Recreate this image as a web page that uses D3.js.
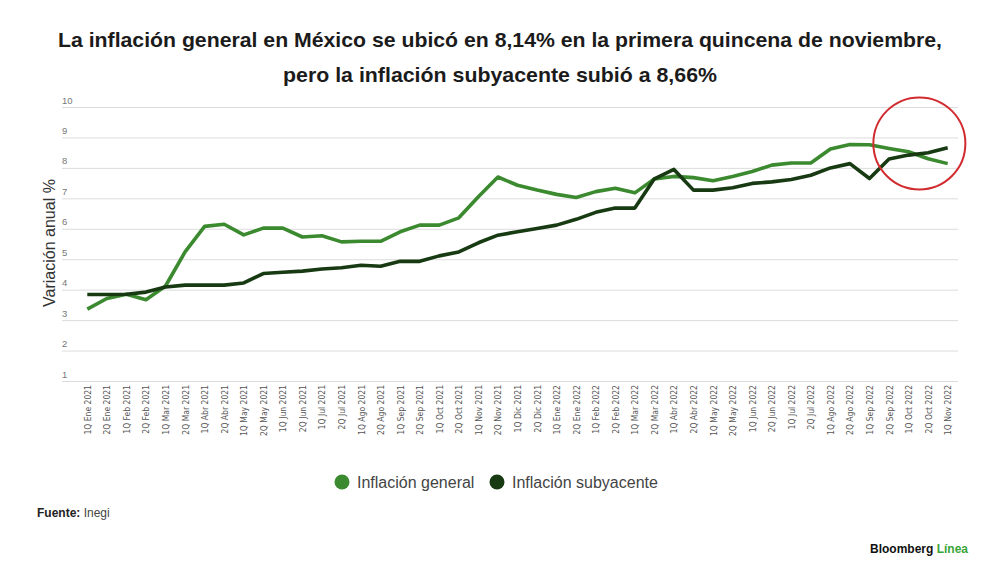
<!DOCTYPE html>
<html>
<head>
<meta charset="utf-8">
<script src="https://cdn.jsdelivr.net/npm/d3@7"></script>
<style>
  body { margin: 0; background: #fff; }
  svg { font-family: "Liberation Sans", Arial, sans-serif; }
</style>
</head>
<body>
<div id="canvas"></div>
<script>
const quincenas = [
  "1Q Ene 2021", "2Q Ene 2021", "1Q Feb 2021", "2Q Feb 2021", "1Q Mar 2021", "2Q Mar 2021",
  "1Q Abr 2021", "2Q Abr 2021", "1Q May 2021", "2Q May 2021", "1Q Jun 2021", "2Q Jun 2021",
  "1Q Jul 2021", "2Q Jul 2021", "1Q Ago 2021", "2Q Ago 2021", "1Q Sep 2021", "2Q Sep 2021",
  "1Q Oct 2021", "2Q Oct 2021", "1Q Nov 2021", "2Q Nov 2021", "1Q Dic 2021", "2Q Dic 2021",
  "1Q Ene 2022", "2Q Ene 2022", "1Q Feb 2022", "2Q Feb 2022", "1Q Mar 2022", "2Q Mar 2022",
  "1Q Abr 2022", "2Q Abr 2022", "1Q May 2022", "2Q May 2022", "1Q Jun 2022", "2Q Jun 2022",
  "1Q Jul 2022", "2Q Jul 2022", "1Q Ago 2022", "2Q Ago 2022", "1Q Sep 2022", "2Q Sep 2022",
  "1Q Oct 2022", "2Q Oct 2022", "1Q Nov 2022"
];

const general = [
  3.36, 3.71, 3.85, 3.67, 4.12, 5.24, 6.08, 6.15, 5.80, 6.02, 6.02, 5.73,
  5.77, 5.57, 5.59, 5.59, 5.90, 6.12, 6.12, 6.36, 7.05, 7.70, 7.43, 7.27,
  7.13, 7.03, 7.22, 7.33, 7.18, 7.64, 7.72, 7.68, 7.58, 7.72, 7.88, 8.09,
  8.16, 8.16, 8.62, 8.77, 8.76, 8.64, 8.53, 8.30, 8.14
];

const subyacente = [
  3.84, 3.84, 3.85, 3.92, 4.09, 4.15, 4.15, 4.15, 4.22, 4.53, 4.57, 4.61,
  4.68, 4.72, 4.80, 4.77, 4.93, 4.93, 5.11, 5.24, 5.54, 5.79, 5.90, 6.01,
  6.12, 6.31, 6.54, 6.68, 6.68, 7.64, 7.95, 7.27, 7.27, 7.35, 7.49, 7.54,
  7.62, 7.76, 8.00, 8.14, 7.65, 8.29, 8.42, 8.50, 8.66
];

const yTicks = [1, 2, 3, 4, 5, 6, 7, 8, 9, 10];

const series = [
  { name: "Inflación general", values: general, color: "#3b8a2f" },
  { name: "Inflación subyacente", values: subyacente, color: "#173a13" }
];

const width = 1000;
const height = 582;
const gridLeft = 62;
const gridRight = 958;

const svg = d3.select("#canvas").append("svg")
  .attr("width", width)
  .attr("height", height);

// title, squeezed to the condensed width of the original
const title = svg.append("g").attr("font-weight", "bold").attr("fill", "#1b1b1b")
  .attr("font-size", "21px").attr("text-anchor", "middle");
title.append("text")
  .attr("x", 500).attr("y", 47)
  .attr("textLength", 884).attr("lengthAdjust", "spacingAndGlyphs")
  .text("La inflación general en México se ubicó en 8,14% en la primera quincena de noviembre,");
title.append("text")
  .attr("x", 500).attr("y", 82)
  .attr("textLength", 434).attr("lengthAdjust", "spacingAndGlyphs")
  .text("pero la inflación subyacente subió a 8,66%");

const x = d3.scalePoint()
  .domain(quincenas)
  .range([87.3, 947.7]);

const y = d3.scaleLinear()
  .domain([1, 10])
  .range([381, 107]);

// gridlines + labels sitting above them
const yAxis = svg.append("g")
  .attr("transform", `translate(${gridLeft},0)`)
  .call(d3.axisRight(y).tickValues(yTicks).tickSize(gridRight - gridLeft));
yAxis.select(".domain").remove();
yAxis.selectAll(".tick line").attr("stroke", "#dcdcdc").attr("stroke-width", 1);
yAxis.selectAll(".tick text")
  .attr("x", 0).attr("dy", -4)
  .attr("text-anchor", "start")
  .attr("fill", "#777")
  .style("font-size", "9.5px");

svg.append("text")
  .attr("transform", "translate(55,243) rotate(-90)")
  .attr("text-anchor", "middle")
  .attr("fill", "#333")
  .style("font-size", "16px")
  .text("Variación anual %");

const xAxis = svg.append("g")
  .attr("transform", "translate(0,385)")
  .call(d3.axisBottom(x).tickSize(0).tickPadding(0));
xAxis.select(".domain").remove();
xAxis.selectAll(".tick text")
  .attr("transform", "rotate(-90)")
  .attr("text-anchor", "end")
  .attr("x", 0).attr("y", 0).attr("dy", "0.35em")
  .attr("fill", "#555")
  .style("font-family", "'Liberation Sans Narrow', 'DejaVu Sans Condensed', Arial, sans-serif")
  .style("font-size", "8.5px");

const line = d3.line()
  .x((d, i) => x(quincenas[i]))
  .y((d) => y(d));

svg.selectAll(".serie")
  .data(series)
  .enter()
  .append("path")
  .attr("class", "serie")
  .attr("fill", "none")
  .attr("stroke", (d) => d.color)
  .attr("stroke-width", 3.6)
  .attr("stroke-linejoin", "round")
  .attr("d", (d) => line(d.values));

// red highlight circle around the last crossing
const last = quincenas.length - 1;
svg.append("circle")
  .attr("cx", (x(quincenas[last - 2]) + x(quincenas[last - 1])) / 2 + 1)
  .attr("cy", (y(general[last - 2]) + y(subyacente[last - 2])) / 2 - 10)
  .attr("r", 46)
  .attr("fill", "none")
  .attr("stroke", "#d12b2f")
  .attr("stroke-width", 2);

// legend
const legendX = [342, 497];
const legend = svg.selectAll(".legend")
  .data(series)
  .enter()
  .append("g")
  .attr("class", "legend")
  .attr("transform", (d, i) => `translate(${legendX[i]},482)`);
legend.append("circle").attr("r", 7.5).attr("fill", (d) => d.color);
legend.append("text")
  .attr("x", 15).attr("y", 6)
  .attr("fill", "#444")
  .style("font-size", "16px")
  .text((d) => d.name);

const fuente = svg.append("text")
  .attr("x", 37).attr("y", 517)
  .attr("fill", "#222")
  .style("font-size", "12px");
fuente.append("tspan").attr("font-weight", "bold").text("Fuente:");
fuente.append("tspan").attr("fill", "#444").text(" Inegi");

const brand = svg.append("text")
  .attr("x", 968).attr("y", 553)
  .attr("text-anchor", "end")
  .attr("font-weight", "bold")
  .style("font-size", "12px");
brand.append("tspan").attr("fill", "#111").text("Bloomberg ");
brand.append("tspan").attr("fill", "#3aa53a").text("Línea");
</script>
</body>
</html>
